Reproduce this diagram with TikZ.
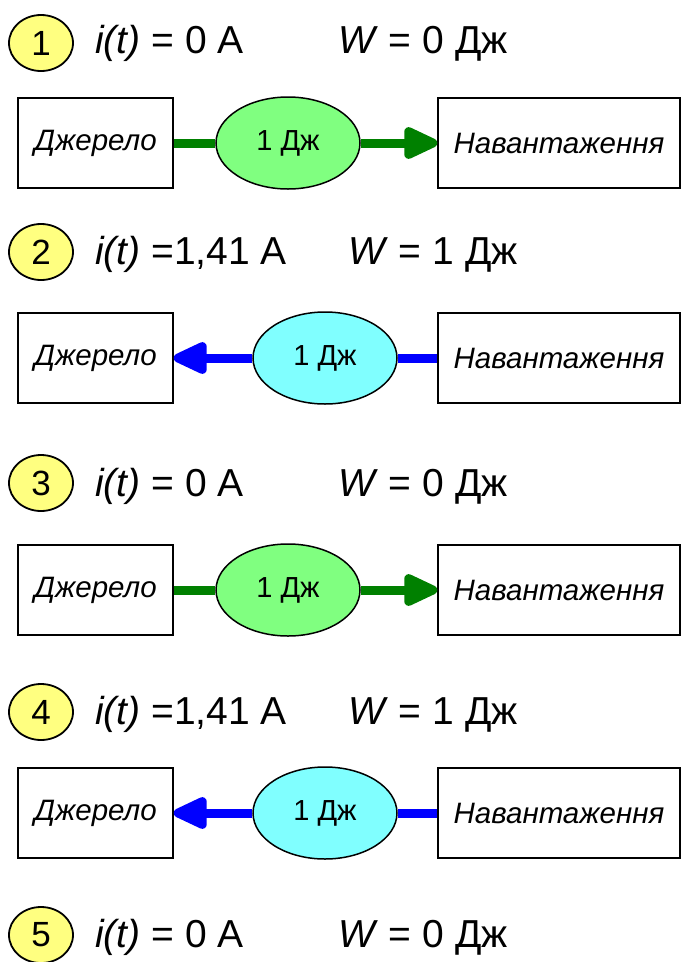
\documentclass[tikz,border=0pt]{standalone}
\usepackage{fontspec}
\setmainfont{Liberation Sans}
\usetikzlibrary{shapes.geometric,arrows.meta}
\definecolor{numyellow}{HTML}{FFFF80}
\definecolor{egreen}{HTML}{80FF80}
\definecolor{ecyan}{HTML}{80FFFF}
\definecolor{lgreen}{HTML}{008000}
\definecolor{lblue}{HTML}{0000FF}
\begin{document}
\begin{tikzpicture}[x=1pt,y=-1pt,
  num/.style={ellipse, draw, line width=1.8pt, fill=numyellow, minimum width=64pt, minimum height=56pt, inner sep=0pt, font=\fontsize{35}{40}\selectfont},
  hdr/.style={anchor=base west, inner sep=0pt, font=\fontsize{39}{44}\selectfont},
  srcbox/.style={draw, line width=1.5pt, minimum width=155pt, minimum height=90pt, inner sep=0pt, font=\fontsize{29.5}{33}\selectfont\itshape},
  loadbox/.style={draw, line width=1.5pt, minimum width=242pt, minimum height=90pt, inner sep=0pt, font=\fontsize{29.5}{33}\selectfont\itshape},
  energy/.style={ellipse, draw, line width=1.5pt, minimum width=144pt, minimum height=92pt, inner sep=0pt, font=\fontsize{29}{33}\selectfont},
  gline/.style={draw=lgreen, line width=9pt},
  bline/.style={draw=lblue, line width=9pt},
  tip/.style={-{Triangle[length=40pt,width=34pt,round]}}
]
\useasboundingbox (0,0) rectangle (683,962);
% Row 1
\node[num] (n1) at (41,43) {1};
\node[hdr] (i1) at (95,53) {\textit{i(t)} = 0 A};
\node[hdr] (w1) at (338,53) {\textit{W} = 0 Дж};
\node[srcbox] (s1) at (95.5,143) {Джерело};
\node[loadbox] (l1) at (559,143) {Навантаження};
\node[energy, fill=egreen] (e1) at (288,143) {1 Дж};
\draw[gline] (s1.east) -- (e1.west);
\draw[gline, tip, lgreen] (e1.east) -- (l1.west);
% Row 2
\node[num] (n2) at (41,252) {2};
\node[hdr] (i2) at (95,264) {\textit{i(t)} =1,41 A};
\node[hdr] (w2) at (348,264) {\textit{W} = 1 Дж};
\node[srcbox] (s2) at (95.5,358) {Джерело};
\node[loadbox] (l2) at (559,358) {Навантаження};
\node[energy, fill=ecyan] (e2) at (325,358) {1 Дж};
\draw[bline, tip, lblue] (e2.west) -- (s2.east);
\draw[bline] (e2.east) -- (l2.west);
% Row 3
\node[num] (n3) at (41,483) {3};
\node[hdr] (i3) at (95,496) {\textit{i(t)} = 0 A};
\node[hdr] (w3) at (338,496) {\textit{W} = 0 Дж};
\node[srcbox] (s3) at (95.5,590) {Джерело};
\node[loadbox] (l3) at (559,590) {Навантаження};
\node[energy, fill=egreen] (e3) at (288,590) {1 Дж};
\draw[gline] (s3.east) -- (e3.west);
\draw[gline, tip, lgreen] (e3.east) -- (l3.west);
% Row 4
\node[num] (n4) at (41,712) {4};
\node[hdr] (i4) at (95,724) {\textit{i(t)} =1,41 A};
\node[hdr] (w4) at (348,724) {\textit{W} = 1 Дж};
\node[srcbox] (s4) at (95.5,813) {Джерело};
\node[loadbox] (l4) at (559,813) {Навантаження};
\node[energy, fill=ecyan] (e4) at (325,813) {1 Дж};
\draw[bline, tip, lblue] (e4.west) -- (s4.east);
\draw[bline] (e4.east) -- (l4.west);
% Row 5
\node[num] (n5) at (41,935) {5};
\node[hdr] (i5) at (95,947) {\textit{i(t)} = 0 A};
\node[hdr] (w5) at (338,947) {\textit{W} = 0 Дж};
\end{tikzpicture}
\end{document}
